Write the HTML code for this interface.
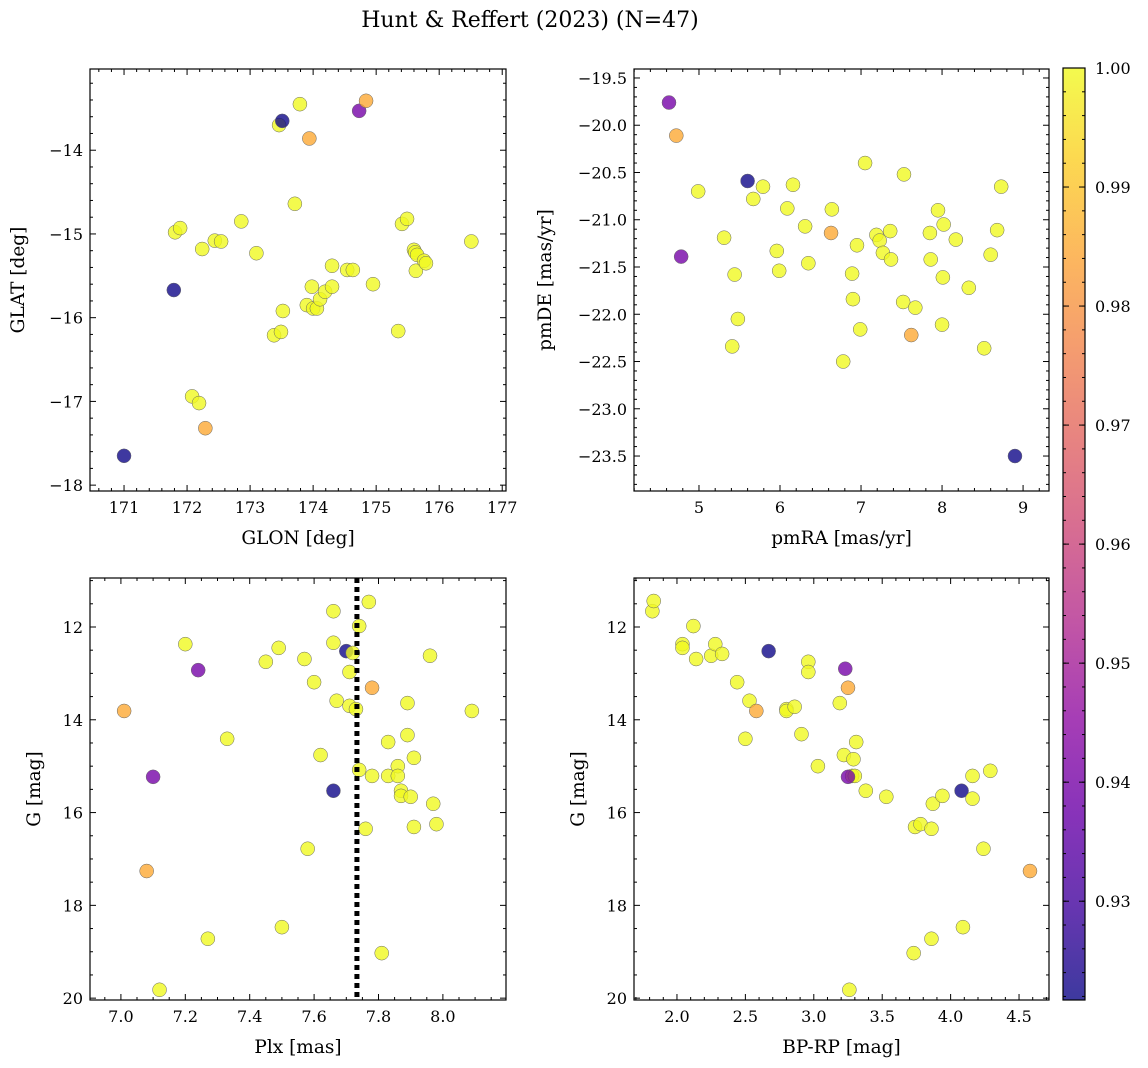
<!DOCTYPE html>
<html><head><meta charset="utf-8">
<style>
html,body{margin:0;padding:0;background:#fff;}
svg{display:block;font-family:"DejaVu Serif","Liberation Serif",serif;}
</style></head>
<body>
<svg id="fig" width="1148" height="1068" viewBox="0 0 1148 1068" xmlns="http://www.w3.org/2000/svg">
<text x="530" y="27" font-size="22" text-anchor="middle">Hunt &amp; Reffert (2023) (N=47)</text>
</svg>
<script>
// ---- data (color codes: y=1.0, o=0.985, p=0.94, d=0.922) ----
const p1x=[171.0,171.81,171.89,171.79,172.08,172.19,172.29,172.24,172.44,172.54,172.86,173.1,173.38,173.49,173.52,173.46,173.51,173.79,173.71,173.94,173.9,173.98,174.0,174.06,174.11,174.19,174.3,174.3,174.54,174.63,174.73,174.84,174.95,175.35,175.41,175.49,175.6,175.62,175.65,175.63,175.76,175.79,176.51];
const p1y=[-17.65,-14.98,-14.93,-15.67,-16.94,-17.02,-17.32,-15.18,-15.08,-15.09,-14.85,-15.23,-16.21,-16.17,-15.92,-13.70,-13.65,-13.45,-14.64,-13.86,-15.85,-15.63,-15.89,-15.89,-15.78,-15.69,-15.63,-15.38,-15.43,-15.43,-13.53,-13.41,-15.6,-16.16,-14.88,-14.82,-15.19,-15.22,-15.25,-15.44,-15.32,-15.35,-15.09];
const p1c=["d","y","y","d","y","y","o","y","y","y","y","y","y","y","y","y","d","y","y","o","y","y","y","y","y","y","y","y","y","y","p","o","y","y","y","y","y","y","y","y","y","y","y"];

const p2x=[4.63,4.72,4.78,4.99,5.31,5.41,5.44,5.48,5.6,5.67,5.79,5.96,5.99,6.09,6.16,6.31,6.35,6.63,6.64,6.78,6.89,6.9,6.95,6.99,7.05,7.19,7.23,7.27,7.36,7.37,7.52,7.53,7.62,7.67,7.85,7.86,7.95,8.0,8.01,8.02,8.17,8.33,8.52,8.6,8.68,8.73,8.9];
const p2y=[-19.76,-20.11,-21.39,-20.7,-21.19,-22.34,-21.58,-22.05,-20.59,-20.78,-20.65,-21.33,-21.54,-20.88,-20.63,-21.07,-21.46,-21.14,-20.89,-22.5,-21.57,-21.84,-21.27,-22.16,-20.4,-21.16,-21.22,-21.35,-21.12,-21.42,-21.87,-20.52,-22.22,-21.93,-21.14,-21.42,-20.9,-22.11,-21.61,-21.05,-21.21,-21.72,-22.36,-21.37,-21.11,-20.65,-23.5];
const p2c=["p","o","p","y","y","y","y","y","d","y","y","y","y","y","y","y","y","o","y","y","y","y","y","y","y","y","y","y","y","y","y","y","o","y","y","y","y","y","y","y","y","y","y","y","y","y","d"];

const p3x=[7.01,7.1,7.08,7.12,7.2,7.24,7.27,7.33,7.45,7.49,7.5,7.57,7.58,7.6,7.62,7.66,7.66,7.66,7.67,7.7,7.71,7.71,7.72,7.73,7.74,7.74,7.76,7.77,7.78,7.78,7.81,7.83,7.83,7.86,7.86,7.87,7.87,7.89,7.89,7.9,7.91,7.91,7.96,7.97,7.98,8.09];
const p3y=[13.81,15.23,17.26,19.82,12.37,12.93,18.72,14.41,12.75,12.45,18.47,12.69,16.78,13.19,14.76,15.53,12.34,11.66,13.59,12.52,12.97,13.7,12.56,13.77,11.98,15.08,16.35,11.46,15.21,13.31,19.03,14.48,15.21,15.0,15.21,15.53,15.64,14.33,13.64,15.66,14.82,16.31,12.62,15.81,16.25,13.81];
const p3c=["o","p","o","y","y","p","y","y","y","y","y","y","y","y","y","d","y","y","y","d","y","y","y","y","y","y","y","y","y","o","y","y","y","y","y","y","y","y","y","y","y","y","y","y","y","y"];
const plxLine=7.733;

const p4x=[1.82,1.83,2.04,2.04,2.12,2.14,2.25,2.28,2.33,2.44,2.5,2.53,2.58,2.67,2.8,2.8,2.86,2.91,2.96,2.96,3.03,3.19,3.22,3.23,3.28,3.29,3.3,3.31,3.25,3.25,3.26,3.38,3.53,3.73,3.74,3.78,3.86,3.86,3.87,3.94,4.09,4.08,4.16,4.16,4.24,4.29,4.58];
const p4y=[11.66,11.44,12.37,12.45,11.98,12.69,12.62,12.37,12.58,13.19,14.41,13.59,13.81,12.52,13.77,13.81,13.72,14.31,12.75,12.97,15.0,13.64,14.76,12.9,15.21,14.85,15.21,14.48,13.31,15.23,19.82,15.53,15.66,19.03,16.31,16.25,18.72,16.35,15.81,15.64,18.47,15.53,15.7,15.21,16.78,15.1,17.26];
const p4c=["y","y","y","y","y","y","y","y","y","y","y","y","o","d","y","y","y","y","y","y","y","y","y","p","y","y","y","y","o","p","y","y","y","y","y","y","y","y","y","y","y","d","y","y","y","y","o"];

const cbTicks=[0.93,0.94,0.95,0.96,0.97,0.98,0.99,1.00];
const codeVal={y:1.0,o:0.985,p:0.94,d:0.922};
const vmin=0.9217,vmax=1.0;

const NS="http://www.w3.org/2000/svg";
const svg=document.getElementById('fig');
function el(tag,attrs,parent){const e=document.createElementNS(NS,tag);for(const k in attrs)e.setAttribute(k,attrs[k]);(parent||svg).appendChild(e);return e;}
const plasma=["#0d0887","#41049d","#6a00a8","#8f0da4","#b12a90","#cc4778","#e16462","#f2844b","#fca636","#fcce25","#f0f921"];
function hex(h){return [parseInt(h.substr(1,2),16),parseInt(h.substr(3,2),16),parseInt(h.substr(5,2),16)];}
function cmap(v){let t=(v-vmin)/(vmax-vmin);t=Math.max(0,Math.min(1,t));const f=t*10,i=Math.min(9,Math.floor(f)),r=f-i;const a=hex(plasma[i]),b=hex(plasma[i+1]);return `rgb(${a.map((x,k)=>Math.round(x+(b[k]-x)*r)).join(',')})`;}
function fmt(v,d){return (v<0?"\u2212":"")+Math.abs(v).toFixed(d);}

function panel(o){
  const g=el('g',{});
  
  
  const sx=v=>o.x0+(v-o.xr[0])/(o.xr[1]-o.xr[0])*(o.x1-o.x0);
  const sy=o.yinv?(v=>o.y0+(v-o.yr[0])/(o.yr[1]-o.yr[0])*(o.y1-o.y0)):(v=>o.y1-(v-o.yr[0])/(o.yr[1]-o.yr[0])*(o.y1-o.y0));
  const tg=el('g',{stroke:'#000','stroke-width':1},g);
  for(let v=Math.ceil(o.xr[0]/o.xmin-1e-6)*o.xmin;v<=o.xr[1]+1e-9;v+=o.xmin){const x=sx(v);const maj=Math.abs(v/o.xmaj-Math.round(v/o.xmaj))<1e-4;const L=maj?6:3;
    el('line',{x1:x,x2:x,y1:o.y1,y2:o.y1-L},tg);el('line',{x1:x,x2:x,y1:o.y0,y2:o.y0+L},tg);
    if(maj){const t=el('text',{x:x,y:o.y1+22,'font-size':16,'text-anchor':'middle',stroke:'none'},g);t.textContent=fmt(v,o.xd);}}
  for(let v=Math.ceil(o.yr[0]/o.ymin-1e-6)*o.ymin;v<=o.yr[1]+1e-9;v+=o.ymin){const y=sy(v);const maj=Math.abs(v/o.ymaj-Math.round(v/o.ymaj))<1e-4;const L=maj?6:3;
    el('line',{x1:o.x0,x2:o.x0+L,y1:y,y2:y},tg);el('line',{x1:o.x1,x2:o.x1-L,y1:y,y2:y},tg);
    if(maj){const t=el('text',{x:o.x0-7,y:y+6,'font-size':16,'text-anchor':'end',stroke:'none'},g);t.textContent=fmt(v,o.yd);}}
  for(let i=0;i<o.px.length;i++){const c=el('circle',{cx:sx(o.px[i]),cy:sy(o.py[i]),r:7,fill:cmap(codeVal[o.pc[i]]),'fill-opacity':0.8,stroke:'#666','stroke-width':0.5},g);
    
    }
  if(o.vline!==undefined){const l=el('line',{x1:sx(o.vline),x2:sx(o.vline),y1:o.y0,y2:o.y1,stroke:'#000','stroke-width':5,'stroke-dasharray':'5,4'},g);
    
    }
  const fr=el('rect',{x:o.x0,y:o.y0,width:o.x1-o.x0,height:o.y1-o.y0,fill:'none',stroke:'#000','stroke-width':1.2},g);
  
  
  const xl=el('text',{x:(o.x0+o.x1)/2,y:o.y1+53,'font-size':18.5,'text-anchor':'middle'},g);xl.textContent=o.xlab;
  
  
  const cy=(o.y0+o.y1)/2;const yl=el('text',{x:o.ylx,y:cy,'font-size':18.5,'text-anchor':'middle',transform:`rotate(-90 ${o.ylx} ${cy})`},g);yl.textContent=o.ylab;
  
  
}
panel({name:'glon-glat-panel',x0:90,x1:506,y0:69,y1:491,xr:[170.46,177.06],yr:[-18.07,-13.03],xmaj:1,xmin:0.2,ymaj:1,ymin:0.2,xd:0,yd:0,px:p1x,py:p1y,pc:p1c,xlab:'GLON [deg]',ylab:'GLAT [deg]',ylx:24});
panel({name:'proper-motion-panel',x0:634,x1:1049,y0:69,y1:491,xr:[4.198,9.32],yr:[-23.87,-19.405],xmaj:1,xmin:0.2,ymaj:0.5,ymin:0.1,xd:0,yd:1,px:p2x,py:p2y,pc:p2c,xlab:'pmRA [mas/yr]',ylab:'pmDE [mas/yr]',ylx:551});
panel({name:'parallax-g-panel',x0:90,x1:506,y0:578,y1:1000,xr:[6.904,8.196],yr:[10.944,20.04],yinv:true,xmaj:0.2,xmin:0.05,ymaj:2,ymin:0.5,xd:1,yd:0,px:p3x,py:p3y,pc:p3c,vline:plxLine,xlab:'Plx [mas]',ylab:'G [mag]',ylx:40});
panel({name:'cmd-panel',x0:634,x1:1049,y0:578,y1:1000,xr:[1.686,4.719],yr:[10.944,20.04],yinv:true,xmaj:0.5,xmin:0.1,ymaj:2,ymin:0.5,xd:1,yd:0,px:p4x,py:p4y,pc:p4c,xlab:'BP-RP [mag]',ylab:'G [mag]',ylx:584});

const cb=el('g',{});


const cx0=1063,cx1=1085,cy0=68,cy1=1000;
const cys=v=>cy1-(v-vmin)/(vmax-vmin)*(cy1-cy0);
const defs=el('defs',{},cb);const lg=el('linearGradient',{id:'cbg',x1:0,y1:1,x2:0,y2:0},defs);
for(let k=0;k<=10;k++)el('stop',{offset:k/10,'stop-color':plasma[k]},lg);
el('rect',{x:cx0,y:cy0,width:cx1-cx0,height:cy1-cy0,fill:'url(#cbg)','fill-opacity':0.8},cb);
for(let v=0.922;v<=1.0001;v+=0.002){const y=cys(v);el('line',{x1:cx1,x2:cx1-3,y1:y,y2:y,stroke:'#000'},cb);el('line',{x1:cx0,x2:cx0+3,y1:y,y2:y,stroke:'#000'},cb);}
cbTicks.forEach(v=>{const y=cys(v);el('line',{x1:cx1,x2:cx1-6,y1:y,y2:y,stroke:'#000'},cb);el('line',{x1:cx0,x2:cx0+6,y1:y,y2:y,stroke:'#000'},cb);
  const t=el('text',{x:cx1+10,y:y+6,'font-size':16},cb);t.textContent=v.toFixed(2);
  
  });
el('rect',{x:cx0,y:cy0,width:cx1-cx0,height:cy1-cy0,fill:'none',stroke:'#000','stroke-width':1.2},cb);
</script>
</body></html>
